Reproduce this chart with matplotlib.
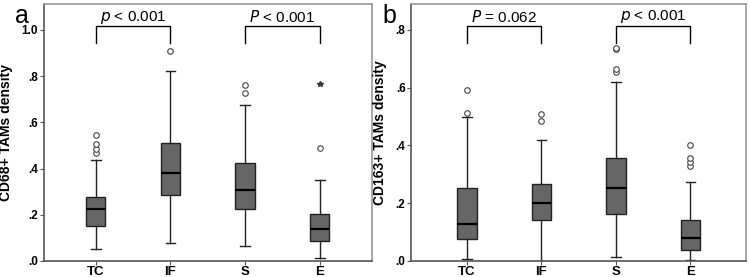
import matplotlib
matplotlib.use("Agg")
import matplotlib.pyplot as plt

plt.rcParams['font.family'] = ['Liberation Sans', 'DejaVu Sans']

groups = ["TC", "IF", "S", "E"]

# panel a: CD68+ TAMs density (whisker low, Q1, median, Q3, whisker high)
cd68_lo = [0.050, 0.076, 0.063, 0.014]
cd68_q1 = [0.153, 0.286, 0.224, 0.085]
cd68_med = [0.227, 0.381, 0.306, 0.139]
cd68_q3 = [0.276, 0.511, 0.426, 0.203]
cd68_hi = [0.436, 0.821, 0.675, 0.351]
cd68_out = [[0.468, 0.486, 0.505, 0.544], [0.911], [0.729, 0.763], [0.488]]
cd68_extreme = [[], [], [], [0.768]]

# panel b: CD163+ TAMs density
cd163_lo = [0.007, 0.0, 0.015, 0.002]
cd163_q1 = [0.077, 0.143, 0.164, 0.037]
cd163_med = [0.127, 0.202, 0.251, 0.081]
cd163_q3 = [0.251, 0.267, 0.358, 0.141]
cd163_hi = [0.500, 0.419, 0.620, 0.275]
cd163_out = [[0.512, 0.592], [0.486, 0.509], [0.654, 0.665, 0.733, 0.737],
             [0.327, 0.341, 0.357, 0.400]]
cd163_extreme = [[], [], [], []]

# comparisons: (group i, group j, label)
cd68_pairs = [(0, 1, r"$p$ < 0.001"), (2, 3, r"$P$ < 0.001")]
cd163_pairs = [(0, 1, r"$P$ = 0.062"), (2, 3, r"$p$ < 0.001")]


def make_stats(lo, q1, med, q3, hi, out):
    stats = []
    for k in range(len(lo)):
        stats.append(dict(whislo=lo[k], q1=q1[k], med=med[k], q3=q3[k],
                          whishi=hi[k], fliers=out[k]))
    return stats


def draw_panel(ax, stats, extreme, pairs, ylim, yticks, ylabel, letter,
               br_top, br_bot, txt_y, xlim):
    pos = list(range(1, len(groups) + 1))
    ax.bxp(stats, positions=pos, widths=0.26, patch_artist=True,
           boxprops=dict(facecolor="#666666", edgecolor="#222222", linewidth=1.0),
           medianprops=dict(color="black", linewidth=1.6),
           whiskerprops=dict(color="#222222", linewidth=1.0),
           capprops=dict(color="#222222", linewidth=1.0),
           capwidths=0.13,
           flierprops=dict(marker="o", markersize=4, markerfacecolor="white",
                           markeredgecolor="#444444", markeredgewidth=0.8))
    for k, ex in enumerate(extreme):
        if ex:
            ax.plot([pos[k]] * len(ex), ex, linestyle="none", marker="*",
                    markersize=4, color="#333333")
    for i, j, lab in pairs:
        xi, xj = pos[i], pos[j]
        ax.plot([xi, xi, xj, xj], [br_bot, br_top, br_top, br_bot],
                color="black", linewidth=1.0)
        ax.text((xi + xj) / 2, txt_y, lab, ha="center", va="center", fontsize=11)
    ax.set_xlim(*xlim)
    ax.set_ylim(*ylim)
    ax.set_xticks(pos)
    ax.set_xticklabels(groups, fontsize=9.5, fontweight="bold")
    ax.set_yticks(yticks)
    ax.set_yticklabels([("%.1f" % t).lstrip("0") for t in yticks], fontsize=8.5,
                       fontweight="bold")
    ax.set_ylabel(ylabel, fontsize=10, fontweight="bold", labelpad=6)
    for s in ax.spines.values():
        s.set_color("#999999")
        s.set_linewidth(1.2)
    ax.spines["bottom"].set_color("#555555")
    ax.spines["left"].set_color("#555555")
    ax.tick_params(axis="both", direction="out", length=3, width=0.8,
                   color="#555555", pad=1)
    ax.text(-0.065, 0.925, letter, transform=ax.transAxes, fontsize=18,
            ha="center", va="baseline")


fig = plt.figure(figsize=(7.5, 2.77), dpi=100)
ax1 = fig.add_axes([0.058, 0.058, 0.438, 0.928])
ax2 = fig.add_axes([0.548, 0.058, 0.447, 0.928])

draw_panel(ax1, make_stats(cd68_lo, cd68_q1, cd68_med, cd68_q3, cd68_hi, cd68_out),
           cd68_extreme, cd68_pairs, (0, 1.113), [0.0, 0.2, 0.4, 0.6, 0.8, 1.0],
           "CD68+ TAMs density", "a", 1.019, 0.942, 1.055, (0.3, 4.7))
draw_panel(ax2, make_stats(cd163_lo, cd163_q1, cd163_med, cd163_q3, cd163_hi, cd163_out),
           cd163_extreme, cd163_pairs, (0, 0.89), [0.0, 0.2, 0.4, 0.6, 0.8],
           "CD163+ TAMs density", "b", 0.815, 0.754, 0.846, (0.25, 4.75))

fig.savefig("out.png", dpi=100)
